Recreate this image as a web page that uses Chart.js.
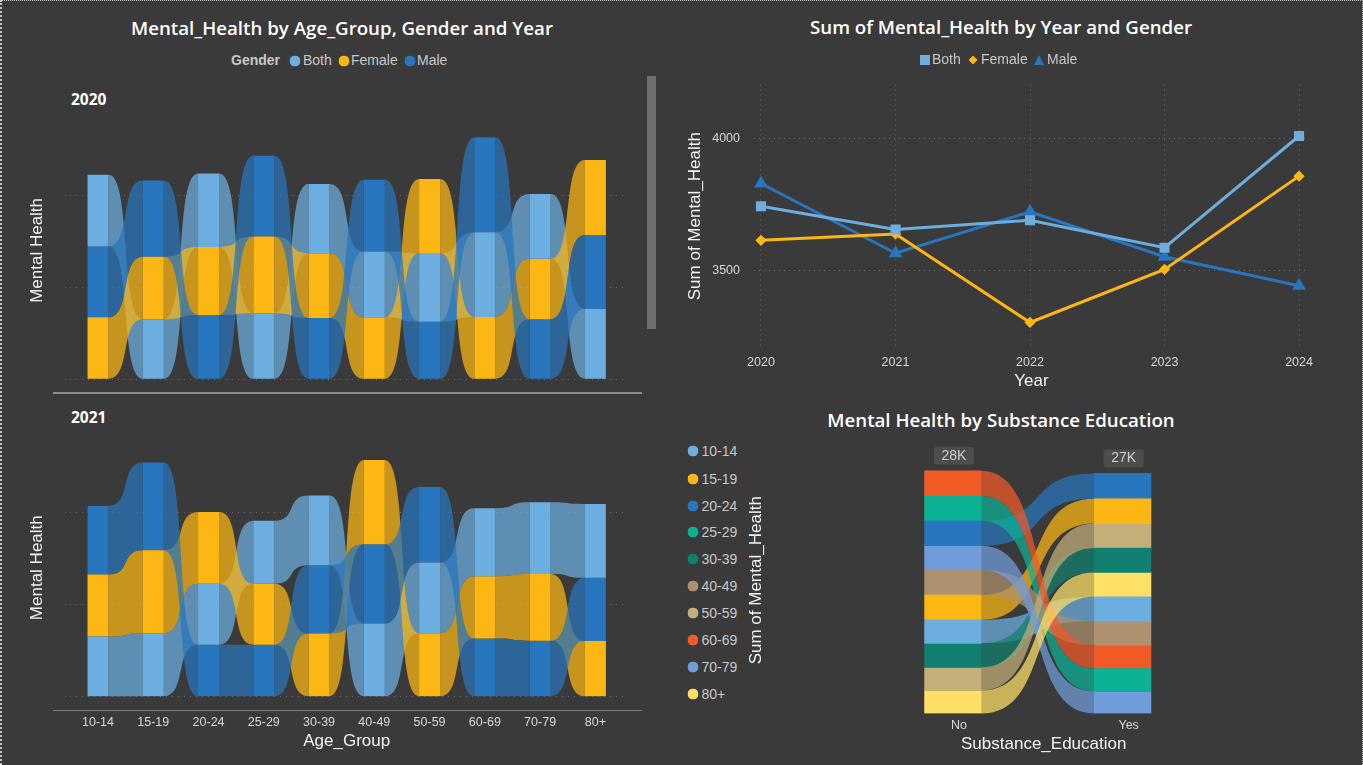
<!DOCTYPE html>
<html><head><meta charset="utf-8">
<script src="https://cdn.jsdelivr.net/npm/chart.js@4"></script>
<style>
html,body{margin:0;padding:0;background:#3a3a3a;width:1363px;height:765px;overflow:hidden}
canvas{position:absolute;display:block}
.t{position:absolute;white-space:nowrap;line-height:1;transform:translateY(-50%)}
.title{font:600 18.7px "Open Sans",sans-serif;color:#fff;transform:translate(-50%,-50%)}
.year{font:700 15.5px "Open Sans",sans-serif;color:#fff}
.leg{font:14px "Liberation Sans",sans-serif;color:#c8c8c8}
.m{position:absolute;transform:translate(-50%,-50%)}
.rule{position:absolute}
#frame{position:absolute;left:0;top:0;width:1363px;height:765px;box-sizing:border-box;border-top:1px dotted #c8c8c8;border-right:1px dotted #c8c8c8;border-left:2px dotted #c8c8c8;pointer-events:none}
</style></head><body>
<div id="frame"></div>
<canvas id="c2020" width="620" height="275" style="left:20px;top:110px"></canvas>
<canvas id="c2021" width="620" height="324" style="left:20px;top:428px"></canvas>
<canvas id="cLine" width="660" height="329" style="left:680px;top:63px"></canvas>
<canvas id="cSankey" width="490" height="320" style="left:745px;top:435px"></canvas>
<div class="rule" style="left:53px;top:392px;width:589px;height:2px;background:#8c8c8c"></div>
<div class="rule" style="left:53px;top:710px;width:589px;height:1px;background:#7a7a7a"></div>
<div class="rule" style="left:647px;top:76px;width:9px;height:253px;background:#6e6e6e"></div>
<div class="t title" style="left:342px;top:27px">Mental_Health by Age_Group, Gender and Year</div>
<div class="t title" style="left:1001px;top:26px">Sum of Mental_Health by Year and Gender</div>
<div class="t title" style="left:1001px;top:419px">Mental Health by Substance Education</div>
<div class="t year" style="left:71px;top:99px">2020</div>
<div class="t year" style="left:71px;top:417px">2021</div>
<div id="legends"></div>
<script>
// ---------- data ----------
const ageGroups = ["10-14","15-19","20-24","25-29","30-39","40-49","50-59","60-69","70-79","80+"];
const genders = ["Both","Female","Male"];
const both2020   = [390,326,398,359,375,357,373,460,352,382];
const female2020 = [337,340,370,416,352,337,402,339,328,408];
const male2020   = [384,413,349,439,333,390,313,516,326,401];
const both2021   = [327,345,331,341,378,397,383,369,389,401];
const female2021 = [336,450,389,331,343,457,345,338,362,302];
const male2021   = [372,475,282,282,370,430,410,316,304,343];
const ribbonTicks = [0,500,1000];

const years = [2020,2021,2022,2023,2024];
const bothByYear   = [3744,3656,3691,3587,4010];
const femaleByYear = [3615,3639,3304,3505,3858];
const maleByYear   = [3830,3566,3723,3553,3443];
const lineTicks = [3500,4000];

const educationLabels = ["No","Yes"];
const educationTotals = ["28K","27K"];
const sankeyNoOrder  = ["60-69","25-29","20-24","70-79","40-49","15-19","10-14","30-39","50-59","80+"];
const sankeyNoVals   = [2920,2850,2885,2805,2885,2850,2735,2770,2655,2655];
const sankeyYesOrder = ["20-24","15-19","50-59","30-39","80+","10-14","40-49","60-69","25-29","70-79"];
const sankeyYesVals  = [2920,2850,2840,2815,2805,2805,2770,2700,2655,2540];

// ---------- styles ----------
const genderColors = {Both:"#6CAEE0",Female:"#FDB714",Male:"#2876BE"};
const ageColors = {"10-14":"#6CAEE0","15-19":"#FDB714","20-24":"#2876BE","25-29":"#0DB295","30-39":"#117F6F",
  "40-49":"#AE916E","50-59":"#C3AF79","60-69":"#F25A28","70-79":"#709CDB","80+":"#FFE066"};
const TICK = "#d8d8d8", GRID = "#666666", AXIS = "#f2f2f2";
const tickFont = {family:"Liberation Sans",size:12.5};
const titleFont = {family:"Liberation Sans",size:17};
Chart.defaults.animation = false;
Chart.defaults.responsive = false;

function ribbon(ctx,x0,t0,b0,x1,t1,b1,color,alpha,k){
  const d=(x1-x0)*k;
  ctx.save();ctx.globalAlpha=alpha;ctx.fillStyle=color;
  ctx.beginPath();ctx.moveTo(x0,t0);
  ctx.bezierCurveTo(x0+d,t0,x1-d,t1,x1,t1);
  ctx.lineTo(x1,b1);
  ctx.bezierCurveTo(x1-d,b1,x0+d,b0,x0,b0);
  ctx.closePath();ctx.fill();ctx.restore();
}
const ribbonPlugin = {
  id:"ribbons",
  beforeDatasetsDraw(chart){
    const ctx=chart.ctx;
    chart.data.datasets.forEach((ds,i)=>{
      const els=chart.getDatasetMeta(i).data;
      for(let p=0;p<els.length-1;p++){
        const a=els[p],b=els[p+1];
        ribbon(ctx,a.x+a.width/2,a.y,a.base,b.x-b.width/2,b.y,b.base,ds.backgroundColor,0.72,0.68);
      }
    });
  }
};
// stack the three genders inside each column, largest on top
function floating(series){
  const out=series.map(()=>[]);
  ageGroups.forEach((_,c)=>{
    const ord=series.map((s,i)=>i).sort((p,q)=>series[p][c]-series[q][c]);
    let run=0;
    ord.forEach(i=>{out[i][c]=[run,run+series[i][c]];run+=series[i][c];});
  });
  return out;
}
function ribbonChart(id,series,showX,padTop,padBottom,yMax){
  const f=floating(series);
  return new Chart(document.getElementById(id),{
    type:"bar",
    data:{labels:ageGroups,datasets:genders.map((g,i)=>({label:g,data:f[i],backgroundColor:genderColors[g],
      categoryPercentage:1,barPercentage:0.38,grouped:false}))},
    plugins:[ribbonPlugin],
    options:{
      layout:{padding:{top:padTop,bottom:padBottom,right:17,left:0}},
      plugins:{legend:{display:false},tooltip:{enabled:false}},
      scales:{
        x:{grid:{display:false,drawTicks:false},border:{display:false},
           ticks:{display:showX,color:TICK,font:tickFont,padding:18,maxRotation:0,autoSkip:false},
           title:{display:showX,text:"Age_Group",color:AXIS,font:titleFont,padding:{top:-16.2,bottom:0}}},
        y:{min:0,max:yMax,afterBuildTicks:s=>{s.ticks=ribbonTicks.map(v=>({value:v}));},
           afterFit:s=>{s.width=50.4;},
           ticks:{display:false},border:{display:false,dash:[1,5]},
           grid:{color:GRID,lineWidth:1,tickLength:5,tickColor:GRID,tickBorderDash:[1,5]},
           title:{display:true,text:"Mental Health",color:AXIS,font:titleFont,padding:{top:7,bottom:0}}}
      }
    }
  });
}
ribbonChart("c2020",[both2020,female2020,male2020],false,11.5,5.7,1400);
ribbonChart("c2021",[both2021,female2021,male2021],true,10.6,0,1400);

// ---------- line chart ----------
const lineSeries=[["Both",bothByYear,"rect",5],["Female",femaleByYear,"rectRot",3.5],["Male",maleByYear,"triangle",5]];
new Chart(document.getElementById("cLine"),{
  type:"line",
  data:{datasets:lineSeries.map(([n,v,ps,r])=>({label:n,data:years.map((y,i)=>({x:y,y:v[i]})),
    borderColor:genderColors[n],backgroundColor:genderColors[n],borderWidth:3,pointStyle:ps,pointRadius:r,
    pointBorderColor:genderColors[n],pointBackgroundColor:genderColors[n],tension:0}))},
  options:{
    layout:{padding:{top:7.5,right:31,bottom:0,left:0}},
    plugins:{legend:{display:false},tooltip:{enabled:false}},
    scales:{
      x:{type:"linear",min:2019.948,max:2024.074,
         afterBuildTicks:s=>{s.ticks=years.map(v=>({value:v}));},
         grid:{color:GRID,drawTicks:false},border:{display:false,dash:[1,4]},
         ticks:{color:TICK,font:tickFont,padding:7.5,callback:v=>String(v),maxRotation:0,autoSkip:false},
         title:{display:true,text:"Year",color:AXIS,font:titleFont,padding:{top:-6.2,bottom:0}}},
      y:{min:3208,max:4205,afterBuildTicks:s=>{s.ticks=lineTicks.map(v=>({value:v}));},
         afterFit:s=>{s.width=74;},
         grid:{color:GRID,drawTicks:false},border:{display:false,dash:[1,4]},
         ticks:{color:TICK,font:tickFont,padding:14,callback:v=>String(v)},
         title:{display:true,text:"Sum of Mental_Health",color:AXIS,font:titleFont,padding:{top:5,bottom:0}}}
    }
  }
});

// ---------- sankey-style stacked bars ----------
function cum(order,vals){
  const m={};let run=0;
  for(let i=order.length-1;i>=0;i--){m[order[i]]=[run,run+vals[i]];run+=vals[i];}
  return m;
}
const noStack=cum(sankeyNoOrder,sankeyNoVals), yesStack=cum(sankeyYesOrder,sankeyYesVals);
const sankeyPlugin={
  id:"flows",
  beforeDatasetsDraw(chart){
    const ctx=chart.ctx;
    chart.data.datasets.forEach((ds,i)=>{
      const [a,b]=chart.getDatasetMeta(i).data;
      ribbon(ctx,a.x+a.width/2,a.y,a.base,b.x-b.width/2,b.y,b.base,ds.backgroundColor,0.72,0.62);
    });
  },
  afterDatasetsDraw(chart){
    const ctx=chart.ctx, xs=chart.scales.x, ys=chart.scales.y;
    [sankeyNoVals,sankeyYesVals].forEach((v,i)=>{
      const tot=v.reduce((p,q)=>p+q,0);
      const cx=xs.getPixelForValue(i)+1, cy=ys.getPixelForValue(tot)-15;
      ctx.save();
      ctx.fillStyle="#4d4d4d";ctx.beginPath();ctx.roundRect(cx-20,cy-9,40,18,3);ctx.fill();
      ctx.fillStyle="#cfcfcf";ctx.font='14px "Liberation Sans"';ctx.textAlign="center";ctx.textBaseline="middle";
      ctx.fillText(educationTotals[i],cx,cy);
      ctx.restore();
    });
  }
};
new Chart(document.getElementById("cSankey"),{
  type:"bar",
  data:{datasets:ageGroups.map(g=>({label:g,
    data:[{x:0,y:noStack[g]},{x:1,y:yesStack[g]}],
    backgroundColor:ageColors[g],barThickness:56.6,grouped:false}))},
  plugins:[sankeyPlugin],
  options:{
    layout:{padding:{top:12,right:15.6,bottom:0,left:0}},
    plugins:{legend:{display:false},tooltip:{enabled:false}},
    scales:{
      x:{type:"linear",offset:false,min:-0.5,max:1.57,
         afterBuildTicks:s=>{s.ticks=[0,1].map(v=>({value:v}));},
         grid:{display:false,drawTicks:false},border:{display:false},
         ticks:{color:TICK,font:tickFont,padding:4.5,labelOffset:6,callback:v=>educationLabels[v],maxRotation:0,autoSkip:false},
         title:{display:true,text:"Substance_Education",color:AXIS,font:titleFont,padding:{top:-2.9,bottom:0}}},
      y:{min:0,max:30750,afterFit:s=>{s.width=123;},
         ticks:{display:false},grid:{display:false},border:{display:false},
         title:{display:true,text:"Sum of Mental_Health",color:AXIS,font:titleFont,padding:{top:1,bottom:0}}}
    }
  }
});

// ---------- legends ----------
const L=document.getElementById("legends");
function text(s,x,y,extra){const d=document.createElement("div");d.className="t leg";d.textContent=s;d.style.left=x+"px";d.style.top=y+"px";if(extra)d.style.cssText+=extra;L.appendChild(d);}
function marker(shape,x,y,c,sz){
  const d=document.createElement("div");d.className="m";d.style.left=x+"px";d.style.top=y+"px";
  d.innerHTML='<svg width="'+sz+'" height="'+sz+'" viewBox="0 0 10 10" style="display:block"><'+shape+' fill="'+c+'"/></svg>';
  L.appendChild(d);
}
const circle='circle cx="5" cy="5" r="5"', square='rect width="10" height="10"',
      diamond='polygon points="5,0 10,5 5,10 0,5"', tri='polygon points="5,0 10,10 0,10"';
text("Gender",231,60,"font-weight:700");
[["Both",295,303],["Female",344,351],["Male",410,417]].forEach(([n,mx,tx])=>{marker(circle,mx,60.5,genderColors[n],11);text(n,tx,60);});
[["Both",925,932,square,10],["Female",973,981,diamond,9],["Male",1039,1047,tri,10]].forEach(([n,mx,tx,s,z])=>{marker(s,mx,59.5,genderColors[n],z);text(n,tx,59);});
const legendRows=[451,478.7,505.7,532,559,586.3,612.7,639.7,667,693.7];
ageGroups.forEach((g,i)=>{marker(circle,693.3,legendRows[i],ageColors[g],11);text(g,701.5,legendRows[i]);});
</script>
</body></html>
